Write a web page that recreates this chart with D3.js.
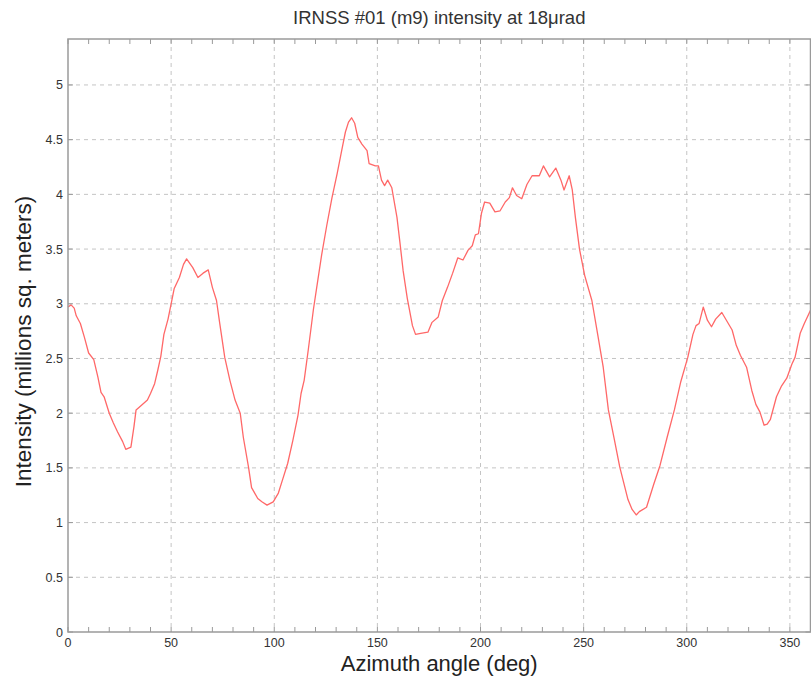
<!DOCTYPE html>
<html>
<head>
<meta charset="utf-8">
<script src="https://cdn.jsdelivr.net/npm/d3@7"></script>
<style>
  html, body { margin: 0; padding: 0; background: #fff; }
  svg { display: block; font-family: "Liberation Sans", Arial, sans-serif; }
</style>
</head>
<body>
<svg id="chart" width="811" height="687"></svg>
<script>
// Azimuth angle (deg) of each sample
const azimuth = [
  0, 1.5, 3, 4, 6, 8, 10, 12.5, 14.5, 16, 17.5, 20, 22, 24, 26.5, 28, 30.5, 32, 33, 35.5,
  38.5, 40, 42, 43.5, 45, 46.5, 48.5, 50, 51.5, 54, 56, 57.5, 60.5, 63, 65.5, 68, 70, 72, 73.5, 76,
  78.5, 81, 83.5, 85, 87.5, 89, 92, 94, 96.5, 99.5, 102, 104, 106.5, 109, 111.5, 113, 114.5, 116.5, 119, 121,
  123, 125.5, 128, 130.5, 133, 134.5, 136, 137.5, 139, 140.5, 142.5, 145, 146, 149, 150.5, 152, 153.5, 155, 157, 159.5,
  161, 162.5, 164.5, 167, 168.5, 171, 174.5, 176.5, 179.5, 181.5, 184, 186.5, 189, 191.5, 194, 196, 197.5, 199, 200.5, 202,
  204.5, 207, 209.5, 212, 214, 215.5, 217.5, 220, 222.5, 225, 228.5, 230.5, 233.5, 236.5, 239, 240.5, 243, 244.5, 246, 248,
  250.5, 254, 257, 259.5, 262, 265, 267.5, 271.5, 273.5, 275.5, 277, 280.5, 284, 287, 290.5, 294, 297, 300.5, 303, 304.5,
  306, 308, 310, 312, 314, 317, 319.5, 322, 324, 326, 329, 331.5, 333.5, 335.5, 337.5, 339, 340.5, 343.5, 346, 348.5,
  351, 352.5, 355, 357, 360
];

// Intensity (millions sq. meters) at each azimuth
const intensity = [
  2.97, 2.99, 2.96, 2.89, 2.82, 2.69, 2.55, 2.49, 2.33, 2.19, 2.15, 2.00, 1.91, 1.83, 1.74, 1.67, 1.69, 1.88, 2.03, 2.07,
  2.12, 2.18, 2.27, 2.39, 2.52, 2.72, 2.86, 3.00, 3.14, 3.24, 3.36, 3.41, 3.33, 3.24, 3.28, 3.31, 3.15, 3.03, 2.83, 2.51,
  2.30, 2.12, 2.00, 1.78, 1.51, 1.32, 1.22, 1.19, 1.16, 1.19, 1.27, 1.39, 1.54, 1.75, 1.98, 2.18, 2.30, 2.58, 2.95, 3.20,
  3.45, 3.72, 3.97, 4.19, 4.43, 4.57, 4.66, 4.70, 4.65, 4.52, 4.46, 4.40, 4.28, 4.26, 4.26, 4.13, 4.08, 4.13, 4.06, 3.79,
  3.55, 3.30, 3.05, 2.80, 2.72, 2.73, 2.74, 2.83, 2.88, 3.03, 3.15, 3.28, 3.42, 3.40, 3.49, 3.53, 3.63, 3.64, 3.83, 3.93,
  3.92, 3.84, 3.85, 3.93, 3.97, 4.06, 3.99, 3.96, 4.09, 4.17, 4.17, 4.26, 4.16, 4.24, 4.13, 4.04, 4.17, 4.04, 3.79, 3.50,
  3.26, 3.03, 2.70, 2.42, 2.03, 1.75, 1.51, 1.21, 1.12, 1.07, 1.10, 1.14, 1.35, 1.52, 1.78, 2.03, 2.28, 2.51, 2.72, 2.80,
  2.82, 2.97, 2.85, 2.79, 2.86, 2.92, 2.84, 2.76, 2.62, 2.53, 2.42, 2.21, 2.08, 2.01, 1.89, 1.90, 1.94, 2.15, 2.25, 2.32,
  2.45, 2.51, 2.73, 2.82, 2.94
];

const xTicks = [0, 50, 100, 150, 200, 250, 300, 350];
const xMinorTicks = [10, 20, 30, 40, 60, 70, 80, 90, 110, 120, 130, 140, 160, 170, 180, 190,
                     210, 220, 230, 240, 260, 270, 280, 290, 310, 320, 330, 340];
const yTicks = [0, 0.5, 1, 1.5, 2, 2.5, 3, 3.5, 4, 4.5, 5];
const yTickLabels = ["0", "0.5", "1", "1.5", "2", "2.5", "3", "3.5", "4", "4.5", "5"];

const titleText = "IRNSS #01 (m9) intensity at 18\u03bcrad";
const xLabelText = "Azimuth angle (deg)";
const yLabelText = "Intensity (millions sq. meters)";

const svg = d3.select("#chart");
const plotLeft = 68, plotRight = 810.5, plotTop = 39, plotBottom = 632;

const x = d3.scaleLinear().domain([0, 360]).range([plotLeft, plotRight]);
const y = d3.scaleLinear().domain([0, 5.42]).range([plotBottom, plotTop]);

const axisColor = "#9a9a9a";
const gridColor = "#c4c4c4";

// dashed grid on major ticks
const grid = svg.append("g");
grid.selectAll("line.vx").data(xTicks.filter(d => d > 0)).join("line")
  .attr("x1", d => x(d)).attr("x2", d => x(d))
  .attr("y1", plotTop).attr("y2", plotBottom)
  .attr("stroke", gridColor).attr("stroke-width", 1).attr("stroke-dasharray", "4,4");
grid.selectAll("line.hy").data(yTicks.filter(d => d > 0)).join("line")
  .attr("x1", plotLeft).attr("x2", plotRight)
  .attr("y1", d => y(d)).attr("y2", d => y(d))
  .attr("stroke", gridColor).attr("stroke-width", 1).attr("stroke-dasharray", "4,4");

// the intensity curve
const line = d3.line()
  .x((d, i) => x(azimuth[i]))
  .y(d => y(d));
svg.append("path")
  .datum(intensity)
  .attr("d", line)
  .attr("fill", "none")
  .attr("stroke", "#ff6868")
  .attr("stroke-width", 1.3)
  .attr("stroke-linejoin", "round");

// frame
svg.append("rect")
  .attr("x", plotLeft).attr("y", plotTop)
  .attr("width", plotRight - plotLeft).attr("height", plotBottom - plotTop)
  .attr("fill", "none").attr("stroke", axisColor).attr("stroke-width", 1.5);

// inward ticks on all four sides
const tickG = svg.append("g").attr("stroke", axisColor).attr("stroke-width", 1);
const allX = xTicks.concat(xMinorTicks);
tickG.selectAll("line.xb").data(allX).join("line")
  .attr("x1", d => x(d)).attr("x2", d => x(d))
  .attr("y1", plotBottom).attr("y2", plotBottom - 5);
tickG.selectAll("line.xt").data(allX).join("line")
  .attr("x1", d => x(d)).attr("x2", d => x(d))
  .attr("y1", plotTop).attr("y2", plotTop + 5);
tickG.selectAll("line.yl").data(yTicks).join("line")
  .attr("x1", plotLeft).attr("x2", plotLeft + 5)
  .attr("y1", d => y(d)).attr("y2", d => y(d));
tickG.selectAll("line.yr").data(yTicks).join("line")
  .attr("x1", plotRight).attr("x2", plotRight - 5)
  .attr("y1", d => y(d)).attr("y2", d => y(d));

// tick labels
svg.append("g").selectAll("text").data(xTicks).join("text")
  .attr("x", d => x(d)).attr("y", plotBottom + 15)
  .attr("text-anchor", "middle")
  .attr("font-size", 12.5).attr("fill", "#333")
  .text(d => d);
svg.append("g").selectAll("text").data(yTicks).join("text")
  .attr("x", plotLeft - 5).attr("y", d => y(d) + 4.5)
  .attr("text-anchor", "end")
  .attr("font-size", 12.5).attr("fill", "#333")
  .text((d, i) => yTickLabels[i]);

// title and axis labels
svg.append("text")
  .attr("x", (plotLeft + plotRight) / 2).attr("y", 24)
  .attr("text-anchor", "middle")
  .attr("font-size", 18.5).attr("fill", "#333")
  .text(titleText);
svg.append("text")
  .attr("x", (plotLeft + plotRight) / 2).attr("y", 671)
  .attr("text-anchor", "middle")
  .attr("font-size", 22).attr("fill", "#222")
  .text(xLabelText);
svg.append("text")
  .attr("transform", `translate(31,${(plotTop + plotBottom) / 2 + 6}) rotate(-90)`)
  .attr("text-anchor", "middle")
  .attr("font-size", 22.5).attr("fill", "#222")
  .text(yLabelText);
</script>
</body>
</html>
